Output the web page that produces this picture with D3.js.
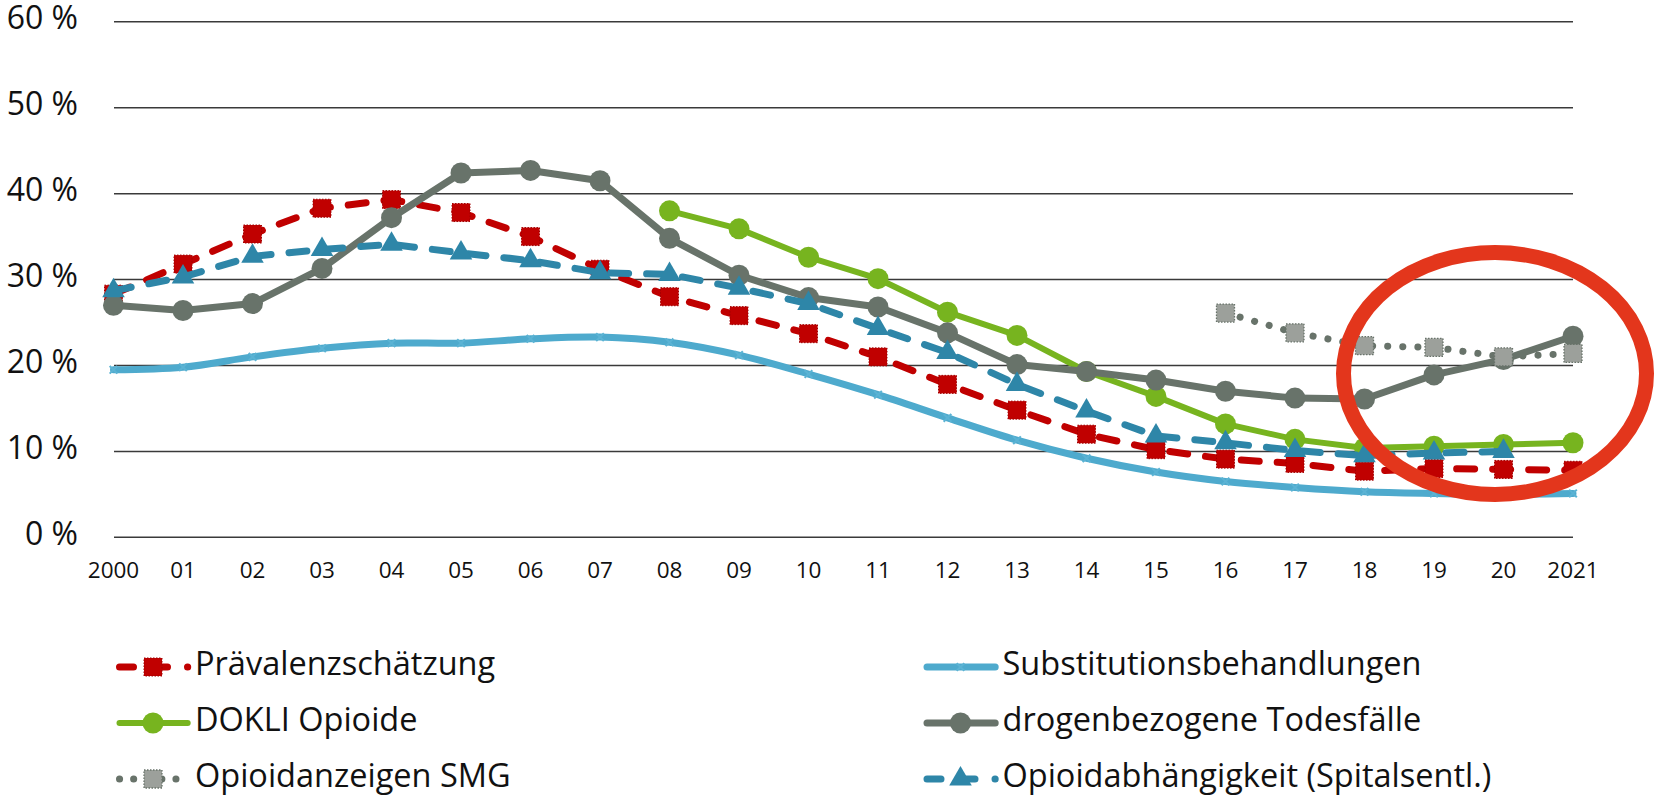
<!DOCTYPE html>
<html>
<head>
<meta charset="utf-8">
<script src="https://cdn.jsdelivr.net/npm/d3@7"></script>
<style>
  html, body { margin: 0; padding: 0; background: #fff; }
  svg { display: block; }
</style>
</head>
<body>
<div id="chart"></div>
<script>
// Chart data
const years = d3.range(2000, 2022);
const yearLabels = ["2000", "01", "02", "03", "04", "05", "06", "07", "08", "09", "10",
                    "11", "12", "13", "14", "15", "16", "17", "18", "19", "20", "2021"];
const yTicks = [0, 10, 20, 30, 40, 50, 60];

const praevalenz = [28.3, 31.8, 35.3, 38.3, 39.3, 37.8, 35.0, 31.2, 28.0, 25.8, 23.7,
                    21.0, 17.8, 14.8, 12.0, 10.2, 9.1, 8.6, 7.7, 8.0, 7.9, 7.8];
const substitution = [19.5, 19.8, 21.0, 22.0, 22.6, 22.6, 23.1, 23.3, 22.7, 21.2, 19.0,
                      16.6, 13.9, 11.3, 9.2, 7.6, 6.5, 5.8, 5.3, 5.1, 5.0, 5.1];
const dokli = [null, null, null, null, null, null, null, null, 38.0, 35.9, 32.6,
               30.1, 26.2, 23.5, 19.3, 16.4, 13.2, 11.4, 10.4, 10.6, 10.8, 11.0];
const todesfaelle = [27.0, 26.4, 27.2, 31.3, 37.2, 42.4, 42.7, 41.5, 34.8, 30.5, 27.9,
                     26.8, 23.8, 20.1, 19.3, 18.3, 17.0, 16.2, 16.1, 18.9, 20.7, 23.4];
const smg = [null, null, null, null, null, null, null, null, null, null, null,
             null, null, null, null, null, 26.1, 23.8, 22.3, 22.1, 21.0, 21.4];
const spital = [28.7, 30.3, 32.7, 33.5, 34.1, 33.1, 32.2, 30.8, 30.6, 29.0, 27.2,
                24.3, 21.5, 17.8, 14.7, 11.8, 11.0, 10.1, 9.5, 9.8, 10.0, null];

const width = 1655;
const height = 799;
const font = "'Open Sans', sans-serif";

const svg = d3.select("#chart").append("svg")
  .attr("width", width)
  .attr("height", height);

// Scales
const x = d3.scalePoint()
  .domain(years)
  .range([113.5, 1573]);

const y = d3.scaleLinear()
  .domain([0, 60])
  .range([537.3, 21.8]);

// Gridlines
svg.append("g")
  .selectAll("line")
  .data(yTicks)
  .join("line")
  .attr("x1", 114)
  .attr("x2", 1573)
  .attr("y1", d => y(d))
  .attr("y2", d => y(d))
  .attr("stroke", "#3a3a3a")
  .attr("stroke-width", 1.5);

// Y tick labels
svg.append("g")
  .selectAll("text")
  .data(yTicks)
  .join("text")
  .attr("x", 78)
  .attr("y", d => y(d) + 7.5)
  .attr("text-anchor", "end")
  .attr("font-family", font)
  .attr("font-size", "32px")
  .attr("fill", "#111")
  .text(d => d + " %");

// X tick labels
svg.append("g")
  .selectAll("text")
  .data(years)
  .join("text")
  .attr("x", d => x(d))
  .attr("y", 577.5)
  .attr("text-anchor", "middle")
  .attr("font-family", font)
  .attr("font-size", "22.5px")
  .attr("fill", "#111")
  .text((d, i) => yearLabels[i]);

// Series styles (drawing order follows the legend order of the original)
const series = [
  {name: "Prävalenzschätzung", values: praevalenz, color: "#c00000", width: 7,
   dash: "18 18", legendDash: "14 20", marker: "square", col: 0, row: 0},
  {name: "Substitutionsbehandlungen", values: substitution, color: "#4eaacd", width: 7,
   dash: null, marker: "cross", smooth: true, col: 1, row: 0},
  {name: "DOKLI Opioide", values: dokli, color: "#77b41f", width: 6,
   dash: null, marker: "circle", col: 0, row: 1},
  {name: "drogenbezogene Todesfälle", values: todesfaelle, color: "#68736a", width: 7,
   dash: null, marker: "circle", col: 1, row: 1},
  {name: "Opioidanzeigen SMG", values: smg, color: "#68736a", width: 7,
   dash: "0.1 15", legendDash: "0.1 14", marker: "greysquare", col: 0, row: 2},
  {name: "Opioidabhängigkeit (Spitalsentl.)", values: spital, color: "#2e86a8", width: 7,
   dash: "18 18", legendDash: "14 20", marker: "triangle", col: 1, row: 2}
];

// Draw one marker at the origin of a group
function drawMarker(g, s) {
  if (s.marker === "square") {
    g.append("rect")
      .attr("x", -9).attr("y", -9).attr("width", 18).attr("height", 18)
      .attr("fill", s.color)
      .attr("stroke", "#a00000")
      .attr("stroke-width", 1)
      .attr("stroke-dasharray", "1.5 1.5");
  } else if (s.marker === "greysquare") {
    g.append("rect")
      .attr("x", -9).attr("y", -9).attr("width", 18).attr("height", 18)
      .attr("fill", "#9ca09b")
      .attr("stroke", "#68736a")
      .attr("stroke-width", 1.3)
      .attr("stroke-dasharray", "1.5 1.5");
  } else if (s.marker === "circle") {
    g.append("circle")
      .attr("r", 10.5)
      .attr("fill", s.color);
  } else if (s.marker === "triangle") {
    g.append("path")
      .attr("d", d3.symbol(d3.symbolTriangle, 220)())
      .attr("fill", s.color);
  } else if (s.marker === "cross") {
    g.append("path")
      .attr("d", d3.symbol(d3.symbolTimes, 40)())
      .attr("fill", "none")
      .attr("stroke", "#5bb3d4")
      .attr("stroke-width", 2);
  }
}

const lineGen = d3.line()
  .defined(d => d.v !== null)
  .x(d => x(d.year))
  .y(d => y(d.v));

series.forEach(s => {
  const pts = years.map((yr, i) => ({year: yr, v: s.values[i]}));
  const gen = s.smooth ? lineGen.curve(d3.curveCatmullRom.alpha(0.5)) : lineGen.curve(d3.curveLinear);

  svg.append("path")
    .datum(pts)
    .attr("d", gen)
    .attr("fill", "none")
    .attr("stroke", s.color)
    .attr("stroke-width", s.width)
    .attr("stroke-linecap", "round")
    .attr("stroke-linejoin", "round")
    .attr("stroke-dasharray", s.dash);

  pts.filter(d => d.v !== null).forEach(d => {
    const g = svg.append("g")
      .attr("transform", `translate(${x(d.year)},${y(d.v)})`);
    drawMarker(g, s);
  });
});

// Red ellipse annotation
svg.append("ellipse")
  .attr("cx", 1495)
  .attr("cy", 373.5)
  .attr("rx", 151.5)
  .attr("ry", 121)
  .attr("fill", "none")
  .attr("stroke", "#e3361c")
  .attr("stroke-width", 15);

// Legend: two columns, three rows
const legendCols = [116, 923.5];
const legendRows = [675, 731, 787];
const symbolLen = 74;

series.forEach(s => {
  const lx = legendCols[s.col];
  const ly = legendRows[s.row];
  const g = svg.append("g");

  g.append("line")
    .attr("x1", lx + 3.5)
    .attr("x2", lx + symbolLen - 2.3)
    .attr("y1", ly - 8)
    .attr("y2", ly - 8)
    .attr("stroke", s.color)
    .attr("stroke-width", s.width)
    .attr("stroke-linecap", "round")
    .attr("stroke-dasharray", s.legendDash || s.dash);

  const m = g.append("g")
    .attr("transform", `translate(${lx + symbolLen / 2},${ly - 8})`);
  drawMarker(m, s);

  g.append("text")
    .attr("x", lx + symbolLen + 5)
    .attr("y", ly)
    .attr("font-family", font)
    .attr("font-size", "32.5px")
    .attr("fill", "#111")
    .text(s.name);
});
</script>
</body>
</html>
